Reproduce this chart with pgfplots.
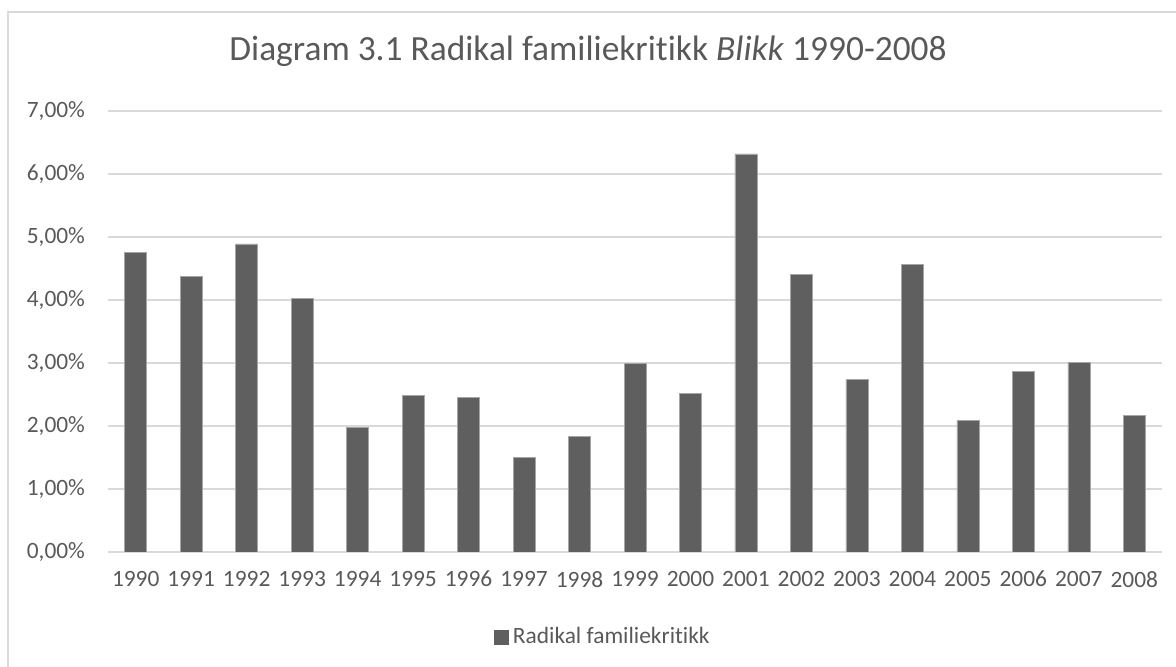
\documentclass[border=0pt]{standalone}
\usepackage{fontspec}
\setmainfont{Carlito}[Ligatures=NoCommon]
\usepackage{pgfplots}
\pgfplotsset{compat=1.18}
\definecolor{barc}{HTML}{5F5F5F}
\definecolor{gridc}{HTML}{D9D9D9}
\definecolor{txt}{HTML}{595959}
\begin{document}
\begin{tikzpicture}[x=1pt,y=1pt]
\useasboundingbox (0,0) rectangle (588,333.5);
\draw[gridc, line width=0.8pt] (4,0) -- (4,327.5) -- (588,327.5);
\node[txt, font=\fontsize{17.7}{20}\selectfont] at (294,308)
  {Diagram 3.1 Radikal familiekritikk \textit{Blikk} 1990-2008};
\begin{axis}[
    at={(54pt,57.5pt)}, anchor=south west,
    scale only axis,
    width=527pt, height=220.5pt,
    ybar, bar width=11pt,
    xmin=-0.5, xmax=18.5,
    ymin=0, ymax=7,
    xtick={0,...,18},
    xticklabels={1990,1991,1992,1993,1994,1995,1996,1997,1998,1999,2000,2001,2002,2003,2004,2005,2006,2007,2008},
    ytick={0,...,7},
    yticklabels={{0,00\%},{1,00\%},{2,00\%},{3,00\%},{4,00\%},{5,00\%},{6,00\%},{7,00\%}},
    ymajorgrids=true,
    grid style={gridc, line width=0.8pt},
    axis x line*=bottom, axis y line*=left,
    x axis line style={gridc, line width=0.8pt, -},
    y axis line style={draw=none},
    major tick length=0pt,
    tick style={draw=none},
    ticklabel style={txt, font=\fontsize{11.7}{14}\selectfont},
    yticklabel style={xshift=-8pt},
    xticklabel style={yshift=-6pt},
    legend style={at={(0.4706,-0.193)}, anchor=center, draw=none,
      font=\fontsize{11.7}{14}\selectfont, text=txt},
]
\addplot[fill=barc, draw=gray!70, line width=0.3pt,
  legend image code/.code={\fill[barc] (0pt,-3.5pt) rectangle (7pt,3.5pt);}]
  coordinates {
 (0,4.76) (1,4.38) (2,4.89) (3,4.03) (4,1.98) (5,2.48) (6,2.46) (7,1.50)
 (8,1.84) (9,2.99) (10,2.52) (11,6.32) (12,4.41) (13,2.74) (14,4.57)
 (15,2.09) (16,2.87) (17,3.01) (18,2.17)
};
\legend{Radikal familiekritikk}
\end{axis}
\end{tikzpicture}
\end{document}
